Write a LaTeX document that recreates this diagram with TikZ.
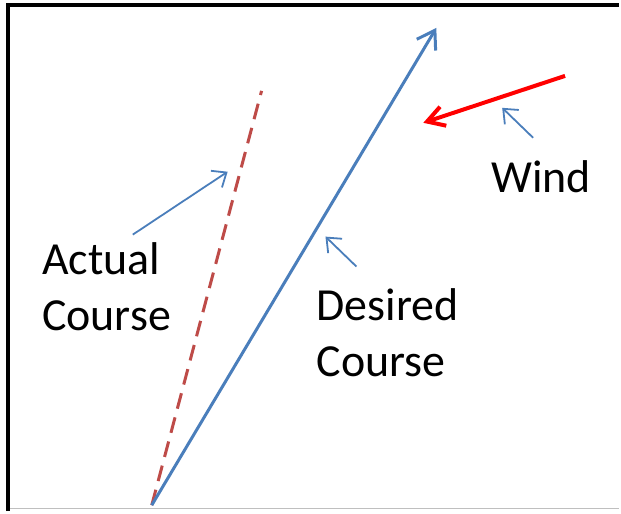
\documentclass[tikz,border=0pt]{standalone}
\usepackage{fontspec}
\setmainfont{Carlito}
\usetikzlibrary{arrows.meta}
\definecolor{course}{HTML}{4A7EBB}
\definecolor{drift}{HTML}{BE4B48}
\definecolor{gust}{HTML}{FF0000}
\tikzset{
  every node/.style={font=\fontsize{46}{56}\selectfont,inner sep=0pt},
  lbl/.style={anchor=base west,align=left},
  pointer/.style={draw=course,line width=1.8pt,-{Straight Barb[length=12pt,width=20pt]}},
  heading/.style={draw=course,line width=3pt,-{Straight Barb[length=17pt,width=22pt]}},
  actual/.style={draw=drift,line width=3pt,dash pattern=on 16pt off 9pt},
  windline/.style={draw=gust,line width=4pt,-{Straight Barb[length=17pt,width=20pt]}},
}

\begin{document}
\begin{tikzpicture}[x=1pt,y=-1pt]
  \fill[white] (0,0) rectangle (621,512);
  \draw[line width=4pt] (8,512) -- (8,5) -- (620,5);
  \draw[black!25,line width=1pt] (10,509.5) -- (620,509.5);
  \coordinate (start) at (152,506);
  \coordinate (aim) at (437,28);
  \coordinate (drifted) at (262,91);
  \coordinate (windfrom) at (566,76);
  \coordinate (windto) at (424,123);
  \draw[actual] (start) -- (drifted);
  \draw[heading] (start) -- (aim);
  \draw[windline] (windfrom) -- (windto);
  \node[lbl] (actual) at (42,331) {Actual\\Course};
  \node[lbl] (desired) at (317,377) {Desired\\Course};
  \node[lbl] (wind) at (492,193) {Wind};
  \coordinate (p1) at (133,235); \coordinate (q1) at (228,172);
  \coordinate (p2) at (357,267); \coordinate (q2) at (326,237);
  \coordinate (p3) at (534,138); \coordinate (q3) at (503,108);
  \foreach \i in {1,2,3} \draw[pointer] (p\i) -- (q\i);
\end{tikzpicture}
\end{document}
